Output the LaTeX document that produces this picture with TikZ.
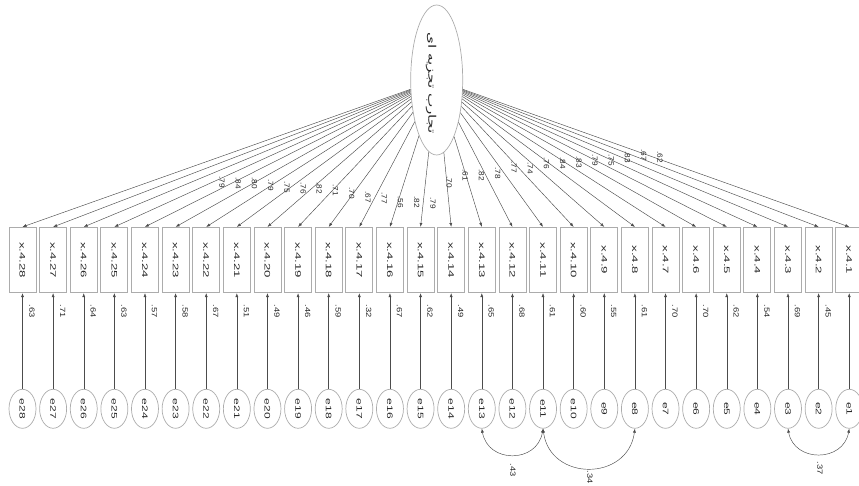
\documentclass[tikz,border=0pt]{standalone}
\usepackage{fontspec}
\setmainfont{Liberation Sans}
\newfontfamily\arabicfont[Script=Arabic]{DejaVu Sans}
\TeXXeTstate=1
\usetikzlibrary{arrows.meta,shapes.geometric,calc}
\newcommand\boxlab[1]{\rotatebox{-90}{\scalebox{1.65}[1]{\fontsize{8}{9}\selectfont #1}}}
\newcommand\errlab[1]{\rotatebox{-90}{\scalebox{1.5}[1]{\fontsize{8}{9}\selectfont #1}}}
\newcommand\vallab[1]{\rotatebox{-90}{\scalebox{1.25}[1]{\fontsize{7.5}{9}\selectfont #1}}}
\newcommand\ldlab[1]{\rotatebox{-90}{\scalebox{1.1}[1]{\fontsize{7.5}{9}\selectfont #1}}}
\begin{document}
\begin{tikzpicture}[x=1pt,y=-1pt,
  every node/.style={text=black!85},
  obs/.style={draw=gray!65,line width=0.8pt,minimum width=27pt,minimum height=65.4pt,inner sep=0pt},
  err/.style={ellipse,draw=gray!65,line width=0.7pt,minimum width=27pt,minimum height=39pt,inner sep=0pt},
  lat/.style={ellipse,draw=gray!65,line width=0.7pt,minimum width=52pt,minimum height=150pt,inner sep=0pt},
  ld/.style={draw=black!70,line width=0.45pt,-{Latex[length=4pt,width=3pt]}},
  cov/.style={draw=black!70,line width=0.45pt,{Latex[length=4pt,width=3pt]}-{Latex[length=4pt,width=3pt]}},
  lbl/.style={inner sep=0pt}]
\useasboundingbox (0,0) rectangle (859,486);
\node[lat] (F) at (436.7,80) {};
\node[inner sep=0pt] (Ft) at (431,83) {\rotatebox{-90}{\scalebox{1.45}[1]{\fontsize{10.5}{12}\arabicfont\beginR تجارب تجزیه ای\endR}}};
\foreach \n [count=\i from 0, evaluate=\i as \cx using 22.5+30.62*\i] in {28,27,...,1} {
  \node[obs] (x\n) at (\cx,260) {\boxlab{x.4.\n}};
  \node[err] (e\n) at (\cx,408.8) {\errlab{e\n}};
  \draw[ld] (e\n) -- (x\n);
  \draw[ld] (F) -- (x\n.north);
}
\foreach \v/\ly [count=\i from 0] in {.79/182,.84/183,.80/183,.79/185,.75/187,.76/188,.82/188,.71/190,.70/193,.67/197,.77/198,.56/202,.82/202,.79/203,.70/182,.61/175,.82/175,.78/173,.77/167,.74/168,.76/163,.84/163,.83/162,.79/160,.75/160,.83/157,.67/155,.62/157} {
  \node[lbl] (l\i) at ({222+16.22*\i},\ly) {\ldlab{\v}};
}
\foreach \v [count=\i from 0] in {.63,.71,.64,.63,.57,.58,.67,.51,.49,.46,.59,.32,.67,.62,.49,.65,.68,.61,.60,.55,.61,.70,.70,.62,.54,.69,.45} {
  \node[lbl] (r\i) at ({32+30.62*\i},311) {\vallab{\v}};
}
\draw[cov] (e13.south) .. controls ($(e13.south)+(6,35)$) and ($(e11.south)+(-6,35)$) .. (e11.south);
\draw[cov] (e11.south) .. controls ($(e11.south)+(7,53)$) and ($(e8.south)+(-7,53)$) .. (e8.south);
\draw[cov] (e3.south) .. controls ($(e3.south)+(6,34)$) and ($(e1.south)+(-6,34)$) .. (e1.south);
\node[lbl] (c1) at (513,470) {\vallab{.43}};
\node[lbl] (c2) at (590,477.5) {\vallab{.34}};
\node[lbl] (c3) at (820,468) {\vallab{.37}};
\end{tikzpicture}
\end{document}
